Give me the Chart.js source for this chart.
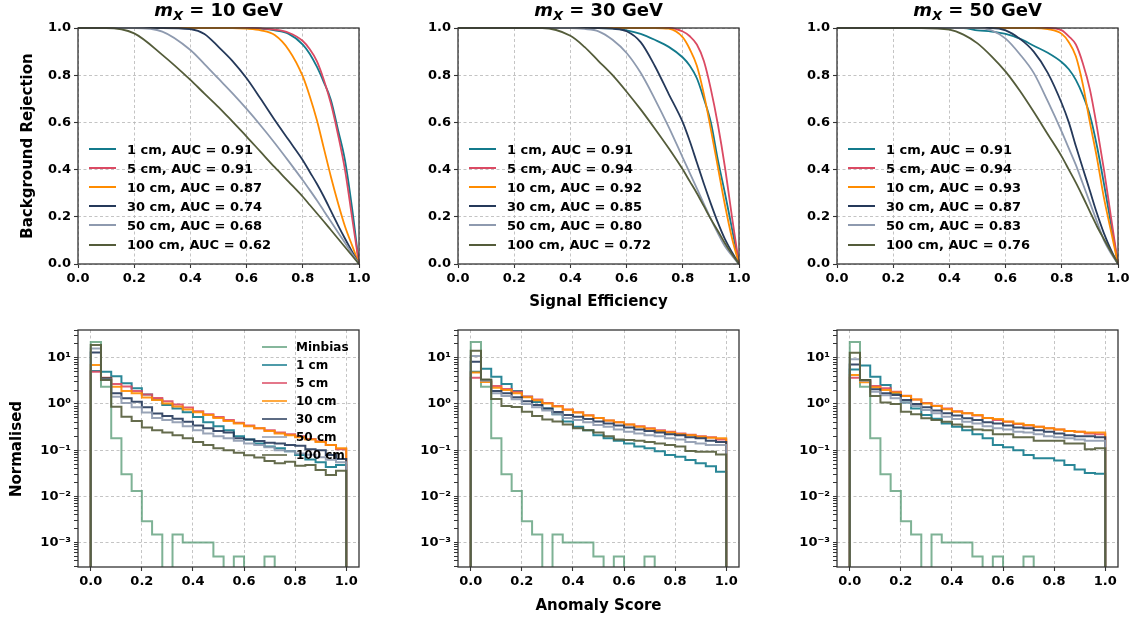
<!DOCTYPE html>
<html>
<head>
<meta charset="utf-8">
<script src="https://cdn.jsdelivr.net/npm/chart.js@4.4.1/dist/chart.umd.min.js"></script>
<style>
  html, body { margin: 0; padding: 0; background: #fff; }
  body { width: 1137px; height: 618px; position: relative; overflow: hidden;
         font-family: "DejaVu Sans", sans-serif; font-weight: bold; color: #000; }
  .panel { position: absolute; }
  .txt { position: absolute; white-space: nowrap; transform: translate(-50%, -50%); }
  .ttl { font-size: 18px; line-height: 18px; }
  .ttl sub { font-size: 13px; vertical-align: -4px; }
  .axt { font-size: 15px; line-height: 15px; }
  .rot { transform: translate(-50%, -50%) rotate(-90deg); }
  .leg { position: absolute; }
  .leg .row { display: flex; align-items: center; white-space: nowrap; }
  .leg .sw { display: inline-block; height: 2px; }
</style>
</head>
<body>
<script>
// ---- data ----
const massLabels = ['10', '30', '50'];            // m_X in GeV, one per column
const seriesLabels = ['1 cm', '5 cm', '10 cm', '30 cm', '50 cm', '100 cm'];
const seriesColors = ['#137a8c', '#db4a63', '#ff8c00', '#25395a', '#8e9aaf', '#545c3a'];
const minbiasLabel = 'Minbias';
const minbiasColor = '#5e9f7b';

// ROC curves: background rejection at these signal efficiencies
const effGrid = [0, 0.1, 0.2, 0.3, 0.4, 0.45, 0.5, 0.55, 0.6, 0.65, 0.7, 0.75, 0.8, 0.825, 0.85, 0.875, 0.9, 0.925, 0.95, 0.975, 1.0];

const roc10GeV = [
  [1, 1, 1, 1, 1, 1, 1, 1, 1, 0.997, 0.99, 0.975, 0.93, 0.89, 0.836, 0.77, 0.695, 0.57, 0.44, 0.24, 0],
  [1, 1, 1, 1, 1, 1, 1, 1, 1, 0.998, 0.993, 0.98, 0.945, 0.91, 0.86, 0.78, 0.68, 0.55, 0.40, 0.2, 0],
  [1, 1, 1, 1, 1, 1, 1, 1, 0.997, 0.99, 0.97, 0.907, 0.795, 0.71, 0.61, 0.49, 0.37, 0.26, 0.16, 0.08, 0],
  [1, 1, 1, 1, 0.995, 0.975, 0.92, 0.86, 0.787, 0.70, 0.61, 0.525, 0.44, 0.39, 0.34, 0.285, 0.225, 0.165, 0.108, 0.053, 0],
  [1, 1, 1, 0.985, 0.907, 0.847, 0.785, 0.723, 0.657, 0.587, 0.513, 0.435, 0.355, 0.313, 0.27, 0.225, 0.18, 0.135, 0.09, 0.045, 0],
  [1, 1, 0.977, 0.886, 0.78, 0.722, 0.665, 0.603, 0.54, 0.475, 0.41, 0.348, 0.285, 0.25, 0.215, 0.18, 0.144, 0.108, 0.072, 0.036, 0]
];
const roc30GeV = [
  [1, 1, 1, 1, 1, 1, 1, 0.998, 0.99, 0.975, 0.95, 0.92, 0.875, 0.84, 0.787, 0.70, 0.60, 0.44, 0.30, 0.15, 0],
  [1, 1, 1, 1, 1, 1, 1, 1, 1, 1, 1, 1, 0.985, 0.965, 0.93, 0.86, 0.74, 0.59, 0.41, 0.2, 0],
  [1, 1, 1, 1, 1, 1, 1, 1, 1, 1, 1, 0.997, 0.96, 0.91, 0.84, 0.72, 0.57, 0.41, 0.25, 0.11, 0],
  [1, 1, 1, 1, 1, 1, 1, 0.997, 0.986, 0.94, 0.84, 0.72, 0.6, 0.52, 0.43, 0.34, 0.255, 0.175, 0.105, 0.05, 0],
  [1, 1, 1, 1, 1, 0.996, 0.986, 0.95, 0.894, 0.81, 0.70, 0.58, 0.45, 0.385, 0.32, 0.255, 0.19, 0.13, 0.075, 0.035, 0],
  [1, 1, 1, 1, 0.967, 0.92, 0.86, 0.80, 0.73, 0.655, 0.574, 0.49, 0.40, 0.35, 0.30, 0.245, 0.19, 0.14, 0.088, 0.042, 0]
];
const roc50GeV = [
  [1, 1, 1, 1, 1, 1, 0.99, 0.985, 0.975, 0.955, 0.925, 0.895, 0.855, 0.825, 0.78, 0.715, 0.63, 0.5, 0.34, 0.17, 0],
  [1, 1, 1, 1, 1, 1, 1, 1, 1, 1, 1, 1, 0.99, 0.965, 0.93, 0.85, 0.74, 0.58, 0.4, 0.2, 0],
  [1, 1, 1, 1, 1, 1, 1, 1, 1, 1, 1, 0.995, 0.975, 0.94, 0.88, 0.76, 0.6, 0.45, 0.28, 0.14, 0],
  [1, 1, 1, 1, 1, 1, 1, 1, 0.99, 0.955, 0.9, 0.81, 0.68, 0.6, 0.5, 0.405, 0.31, 0.215, 0.13, 0.06, 0],
  [1, 1, 1, 1, 1, 1, 1, 0.99, 0.955, 0.89, 0.81, 0.69, 0.56, 0.49, 0.42, 0.34, 0.26, 0.18, 0.1, 0.045, 0],
  [1, 1, 1, 1, 0.993, 0.972, 0.935, 0.88, 0.815, 0.735, 0.645, 0.55, 0.455, 0.4, 0.345, 0.285, 0.222, 0.16, 0.105, 0.052, 0]
];
const auc10GeV = [0.91, 0.91, 0.87, 0.74, 0.68, 0.62];
const auc30GeV = [0.91, 0.94, 0.92, 0.85, 0.80, 0.72];
const auc50GeV = [0.91, 0.94, 0.93, 0.87, 0.83, 0.76];

// anomaly score histograms (normalised), 25 bins
const binEdges = [0, 0.04, 0.08, 0.12, 0.16, 0.2, 0.24, 0.28, 0.32, 0.36, 0.4, 0.44, 0.48,
                  0.52, 0.56, 0.6, 0.64, 0.68, 0.72, 0.76, 0.8, 0.84, 0.88, 0.92, 0.96, 1.0];
const minbiasHist = [22, 2.37, 0.18, 0.030, 0.013, 0.0029, 0.0015, 0, 0.0015, 0.001, 0.001, 0.001, 0.0005,
                     0, 0.0005, 0, 0, 0.0005, 0, 0, 0, 0, 0, 0, 0];
const hist10GeV = [
  [5.2, 5.0, 4.0, 2.8, 2.2, 1.6, 1.25, 0.95, 0.8, 0.66, 0.52, 0.4, 0.33, 0.27, 0.2, 0.17, 0.14, 0.12, 0.11, 0.095, 0.079, 0.063, 0.055, 0.043, 0.048],
  [5.0, 3.7, 2.7, 2.4, 1.9, 1.6, 1.35, 1.15, 0.98, 0.84, 0.7, 0.6, 0.52, 0.45, 0.39, 0.34, 0.3, 0.27, 0.24, 0.22, 0.2, 0.175, 0.155, 0.13, 0.105],
  [7.0, 3.6, 2.37, 1.91, 1.7, 1.39, 1.22, 1.02, 0.88, 0.76, 0.66, 0.58, 0.5, 0.43, 0.38, 0.33, 0.3, 0.26, 0.23, 0.21, 0.19, 0.17, 0.15, 0.13, 0.11],
  [13, 3.6, 1.7, 1.33, 1.12, 0.85, 0.62, 0.55, 0.48, 0.41, 0.34, 0.3, 0.26, 0.24, 0.18, 0.17, 0.158, 0.145, 0.14, 0.13, 0.125, 0.105, 0.1, 0.079, 0.064],
  [16, 3.4, 1.44, 1.05, 0.85, 0.65, 0.5, 0.45, 0.4, 0.33, 0.27, 0.23, 0.2, 0.18, 0.16, 0.14, 0.13, 0.115, 0.1, 0.095, 0.085, 0.08, 0.07, 0.062, 0.055],
  [19, 3.3, 0.87, 0.53, 0.43, 0.31, 0.27, 0.24, 0.21, 0.18, 0.15, 0.13, 0.11, 0.1, 0.088, 0.078, 0.069, 0.058, 0.052, 0.056, 0.046, 0.048, 0.037, 0.029, 0.036]
];
const hist30GeV = [
  [5.0, 5.8, 3.9, 2.7, 1.9, 1.44, 1.1, 0.8, 0.6, 0.42, 0.32, 0.27, 0.21, 0.18, 0.16, 0.14, 0.12, 0.11, 0.095, 0.079, 0.072, 0.061, 0.052, 0.045, 0.034],
  [3.7, 3.1, 2.45, 2.1, 1.85, 1.45, 1.25, 1.05, 0.9, 0.76, 0.66, 0.57, 0.5, 0.44, 0.4, 0.36, 0.33, 0.3, 0.27, 0.25, 0.23, 0.215, 0.2, 0.19, 0.17],
  [4.8, 3.0, 2.25, 2.0, 1.7, 1.4, 1.2, 1.02, 0.88, 0.75, 0.65, 0.56, 0.5, 0.44, 0.4, 0.36, 0.32, 0.29, 0.26, 0.24, 0.22, 0.21, 0.195, 0.185, 0.18],
  [8.2, 3.3, 1.9, 1.7, 1.4, 1.15, 0.95, 0.8, 0.67, 0.58, 0.53, 0.47, 0.42, 0.38, 0.34, 0.31, 0.28, 0.26, 0.24, 0.22, 0.21, 0.19, 0.18, 0.16, 0.15],
  [11, 3.2, 1.7, 1.49, 1.26, 1.0, 0.85, 0.72, 0.6, 0.5, 0.45, 0.4, 0.35, 0.32, 0.28, 0.25, 0.23, 0.21, 0.2, 0.18, 0.17, 0.15, 0.14, 0.13, 0.13],
  [14.3, 3.4, 1.28, 0.9, 0.86, 0.68, 0.55, 0.46, 0.42, 0.36, 0.3, 0.27, 0.24, 0.2, 0.17, 0.165, 0.16, 0.15, 0.14, 0.13, 0.12, 0.096, 0.092, 0.092, 0.081]
];
const hist50GeV = [
  [5.6, 6.8, 3.9, 2.58, 1.7, 1.07, 0.8, 0.58, 0.48, 0.38, 0.32, 0.27, 0.22, 0.18, 0.13, 0.115, 0.1, 0.079, 0.067, 0.067, 0.06, 0.048, 0.038, 0.032, 0.031],
  [3.7, 3.2, 2.45, 2.2, 1.85, 1.5, 1.25, 1.05, 0.92, 0.8, 0.7, 0.63, 0.56, 0.5, 0.45, 0.41, 0.37, 0.34, 0.32, 0.3, 0.28, 0.26, 0.25, 0.23, 0.22],
  [4.25, 2.95, 2.3, 2.0, 1.78, 1.49, 1.25, 1.03, 0.9, 0.77, 0.68, 0.63, 0.58, 0.5, 0.47, 0.42, 0.38, 0.35, 0.32, 0.3, 0.28, 0.26, 0.25, 0.24, 0.24],
  [7.2, 3.3, 2.08, 1.7, 1.57, 1.22, 1.0, 0.85, 0.72, 0.63, 0.56, 0.49, 0.45, 0.4, 0.38, 0.34, 0.31, 0.3, 0.27, 0.25, 0.23, 0.21, 0.2, 0.2, 0.19],
  [9.3, 3.2, 1.85, 1.55, 1.33, 1.07, 0.9, 0.74, 0.63, 0.53, 0.47, 0.41, 0.38, 0.33, 0.3, 0.28, 0.25, 0.24, 0.22, 0.2, 0.19, 0.18, 0.17, 0.16, 0.16],
  [12.9, 3.3, 1.49, 1.07, 1.0, 0.68, 0.6, 0.49, 0.45, 0.41, 0.36, 0.32, 0.28, 0.27, 0.22, 0.22, 0.19, 0.19, 0.16, 0.16, 0.16, 0.14, 0.14, 0.104, 0.11]
];

// ---- layout ----
const FONT = '"DejaVu Sans", sans-serif';
const COL_W = 379;
const COLS = [
  { left: 0, plotL: 78, plotR: 359 },
  { left: 379, plotL: 458, plotR: 739 },
  { left: 758, plotL: 837, plotR: 1118 }
];
const ROWS = [
  { top: 0, height: 300, plotT: 28, plotB: 264 },
  { top: 310, height: 300, plotT: 330, plotB: 567 }
];
const Y_W = 50, X_H = 30;
const GRID = '#b5b5b5';
const SPINE = '#333';
const HIST_FLOOR = 1e-7;  // stands in for empty bins on the log axis

Chart.defaults.font.family = FONT;
Chart.defaults.animation = false;

const framePlugin = {
  id: 'frame',
  afterDatasetsDraw(chart) {
    const a = chart.chartArea, ctx = chart.ctx;
    ctx.save();
    ctx.strokeStyle = SPINE;
    ctx.lineWidth = 1.3;
    ctx.strokeRect(a.left, a.top, a.right - a.left, a.bottom - a.top);
    ctx.restore();
  }
};

function addText(html, x, y, cls) {
  const d = document.createElement('div');
  d.className = 'txt ' + cls;
  d.innerHTML = html;
  d.style.left = x + 'px';
  d.style.top = y + 'px';
  document.body.appendChild(d);
}

function addLegend(items, x, y, rowH, swW, gap, fontSize) {
  const box = document.createElement('div');
  box.className = 'leg';
  box.style.left = x + 'px';
  box.style.top = y + 'px';
  box.style.fontSize = fontSize + 'px';
  items.forEach(it => {
    const r = document.createElement('div');
    r.className = 'row';
    r.style.height = rowH + 'px';
    const s = document.createElement('span');
    s.className = 'sw';
    s.style.width = swW + 'px';
    s.style.background = it.color;
    s.style.marginRight = gap + 'px';
    const t = document.createElement('span');
    t.textContent = it.text;
    r.appendChild(s);
    r.appendChild(t);
    box.appendChild(r);
  });
  document.body.appendChild(box);
}

function makeCanvas(col, row) {
  const d = document.createElement('div');
  d.className = 'panel';
  d.style.left = col.left + 'px';
  d.style.top = row.top + 'px';
  d.style.width = COL_W + 'px';
  d.style.height = row.height + 'px';
  const c = document.createElement('canvas');
  d.appendChild(c);
  document.body.appendChild(d);
  return c;
}

function padFor(col, row) {
  return {
    left: col.plotL - col.left - Y_W,
    right: col.left + COL_W - col.plotR,
    top: row.plotT - row.top,
    bottom: row.top + row.height - row.plotB - X_H
  };
}

const tickFont = { family: FONT, size: 13, weight: 'bold' };

function linearAxis(min, max, isY) {
  return {
    type: 'linear', min: min, max: max,
    afterFit: s => { if (isY) s.width = Y_W; else s.height = X_H; },
    ticks: {
      stepSize: 0.2, includeBounds: false, autoSkip: false, maxRotation: 0,
      color: '#000', font: tickFont, padding: 3,
      callback: v => Number(v).toFixed(1)
    },
    grid: { color: GRID, lineWidth: 0.8, tickColor: SPINE, tickLength: 4, tickWidth: 1.1 },
    border: { display: false, dash: [3, 2.5] }
  };
}

function isDecade(v) {
  if (!(v > 0)) return false;
  const l = Math.log10(v);
  return Math.abs(l - Math.round(l)) < 1e-6;
}
function isWholeMantissa(v) {
  if (!(v > 0)) return false;
  const e = Math.floor(Math.log10(v) + 1e-9);
  const m = v / Math.pow(10, e);
  return Math.abs(m - Math.round(m)) < 1e-6;
}
const SUP = { '-': '\u207B', '0': '\u2070', '1': '\u00B9', '2': '\u00B2', '3': '\u00B3' };
function powLabel(v) {
  const e = String(Math.round(Math.log10(v)));
  return '10' + e.split('').map(ch => SUP[ch]).join('');
}

function logAxis() {
  return {
    type: 'logarithmic', min: 2.95e-4, max: 40,
    afterFit: s => { s.width = Y_W; },
    ticks: {
      autoSkip: false, color: '#000', font: tickFont, padding: 3,
      callback: v => isDecade(v) ? powLabel(v) : ''
    },
    grid: {
      color: c => (c.tick && isDecade(c.tick.value)) ? GRID : 'rgba(0,0,0,0)',
      tickColor: c => (c.tick && isWholeMantissa(c.tick.value)) ? SPINE : 'rgba(0,0,0,0)',
      lineWidth: 0.8, tickLength: 4, tickWidth: 1
    },
    border: { display: false, dash: [3, 2.5] }
  };
}

function baseOptions(col, row, xAxis, yAxis) {
  return {
    responsive: true, maintainAspectRatio: false, animation: false, events: [],
    layout: { padding: padFor(col, row) },
    plugins: { legend: { display: false }, tooltip: { enabled: false } },
    scales: { x: xAxis, y: yAxis }
  };
}

function rocChart(ci, rows, aucs) {
  const col = COLS[ci], row = ROWS[0];
  const datasets = rows.map((vals, i) => ({
    label: seriesLabels[i],
    data: effGrid.map((e, k) => ({ x: e, y: vals[k] })),
    borderColor: seriesColors[i], borderWidth: 1.8, pointRadius: 0,
    cubicInterpolationMode: 'monotone', fill: false, clip: 1,
    order: rows.length - i
  }));
  new Chart(makeCanvas(col, row), {
    type: 'line', data: { datasets },
    options: baseOptions(col, row, linearAxis(0, 1, false), linearAxis(0, 1, true)),
    plugins: [framePlugin]
  });
  addLegend(seriesLabels.map((s, i) => ({ text: s + ', AUC = ' + aucs[i].toFixed(2), color: seriesColors[i] })),
            col.plotL + 11, 139.5, 19.1, 27, 11, 13);
}

// histogram outline: up at the first edge, across each bin, down at the last edge
function stepPoints(vals) {
  const pts = [{ x: binEdges[0], y: HIST_FLOOR }];
  vals.forEach((v, i) => pts.push({ x: binEdges[i], y: v > 0 ? v : HIST_FLOOR }));
  pts.push({ x: binEdges[binEdges.length - 1], y: HIST_FLOOR });
  return pts;
}

function withAlpha(hex, a) {
  const n = parseInt(hex.slice(1), 16);
  return 'rgba(' + (n >> 16) + ',' + ((n >> 8) & 255) + ',' + (n & 255) + ',' + a + ')';
}

function histChart(ci, rows, showLegend) {
  const col = COLS[ci], row = ROWS[1];
  const all = [{ label: minbiasLabel, vals: minbiasHist, color: minbiasColor, a: 0.8 }]
    .concat(rows.map((v, i) => ({ label: seriesLabels[i], vals: v, color: seriesColors[i], a: 0.9 })));
  const datasets = all.map((s, i) => ({
    label: s.label,
    data: stepPoints(s.vals),
    borderColor: withAlpha(s.color, s.a), borderWidth: 2, pointRadius: 0,
    stepped: 'before', fill: false, order: all.length - i
  }));
  new Chart(makeCanvas(col, row), {
    type: 'line', data: { datasets },
    options: baseOptions(col, row, linearAxis(-0.05, 1.05, false), logAxis()),
    plugins: [framePlugin]
  });
  if (showLegend) {
    addLegend(all.map(s => ({ text: s.label, color: withAlpha(s.color, 0.75) })),
              262, 337.7, 18, 25, 9, 12);
  }
}

rocChart(0, roc10GeV, auc10GeV);
rocChart(1, roc30GeV, auc30GeV);
rocChart(2, roc50GeV, auc50GeV);
histChart(0, hist10GeV, true);
histChart(1, hist30GeV, false);
histChart(2, hist50GeV, false);

// titles and axis labels
COLS.forEach((c, i) => {
  addText('<i>m</i><sub><i>X</i></sub> = ' + massLabels[i] + ' GeV', (c.plotL + c.plotR) / 2, 13, 'ttl');
});
addText('Background Rejection', 27, 146, 'axt rot');
addText('Normalised', 16, 449, 'axt rot');
addText('Signal Efficiency', (COLS[1].plotL + COLS[1].plotR) / 2, 301, 'axt');
addText('Anomaly Score', (COLS[1].plotL + COLS[1].plotR) / 2, 605, 'axt');
</script>
</body>
</html>
